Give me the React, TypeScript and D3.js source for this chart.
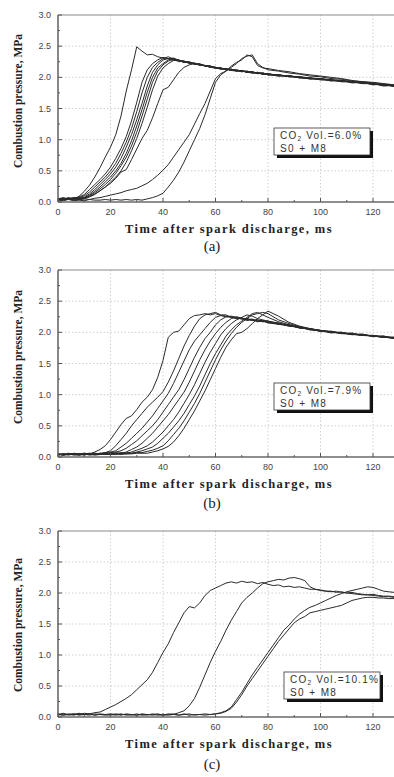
import React from "react";
import * as d3 from "d3";

// ---------- data ----------
const gridAB = [0,2,4,6,8,10,12,14,16,18,20,22,24,26,28,30,32,34,36,38,40,42,44,46,48,50,52,54,56,58,60,62,64,66,68,70,72,74,76,78,80,84,88,92,96,100,104,108,112,116,120,124,128];
const gridC = [0,2,4,6,8,10,12,14,16,18,20,22,24,26,28,30,32,34,36,38,40,42,44,46,48,50,52,54,56,58,60,62,64,66,68,70,72,74,76,78,80,82,84,86,88,90,92,94,96,98,100,102,104,106,108,110,112,114,116,118,120,122,124,126,128];

const xTicks = [0, 20, 40, 60, 80, 100, 120];
const yTicks = [0, 0.5, 1.0, 1.5, 2.0, 2.5, 3.0];
const co2Levels = ["6.0", "7.9", "10.1"];
const panelLetters = ["(a)", "(b)", "(c)"];
const fuelLabel = "S0 + M8";
const xTitle = "Time after spark discharge, ms";
const yTitle = "Combustion pressure, MPa";

// panel (a): CO2 6.0 %
const a1 = [.05,.04,.06,.05,.09,.17,.27,.40,.55,.72, .88,1.08,1.38,1.78,2.12,2.49,2.42,2.36,2.37,2.33, 2.31,2.30,2.27,2.27,2.24,2.24,2.21,2.21,2.18,2.17, 2.16,2.13,2.14,2.11,2.12,2.09,2.10,2.07,2.08,2.05, 2.06,2.02,2.03,1.99,1.99,1.96,1.96,1.93,1.93,1.90, 1.90,1.87,1.87];
const a2 = [.06,.04,.07,.05,.08,.12,.20,.28,.36,.45, .56,.70,.86,1.05,1.30,1.60,1.92,2.12,2.22,2.28, 2.32,2.30,2.29,2.25,2.26,2.22,2.23,2.19,2.19,2.16, 2.15,2.15,2.12,2.13,2.10,2.11,2.08,2.09,2.06,2.07, 2.04,2.04,2.01,2.01,1.97,1.98,1.94,1.95,1.91,1.92, 1.88,1.89,1.85];
const a3 = [.04,.06,.05,.07,.07,.10,.16,.24,.32,.40, .50,.62,.78,.96,1.18,1.45,1.75,2.00,2.16,2.24, 2.30,2.33,2.29,2.27,2.24,2.25,2.21,2.20,2.19,2.16, 2.16,2.13,2.14,2.11,2.10,2.11,2.08,2.07,2.08,2.05, 2.05,2.02,2.03,1.99,1.99,1.96,1.96,1.93,1.93,1.90, 1.90,1.86,1.87];
const a4 = [.05,.07,.04,.06,.06,.08,.13,.20,.28,.36, .45,.56,.70,.88,1.08,1.32,1.58,1.86,2.08,2.20, 2.28,2.30,2.31,2.27,2.26,2.23,2.23,2.20,2.19,2.18, 2.15,2.15,2.12,2.12,2.11,2.09,2.10,2.07,2.07,2.05, 2.06,2.03,2.02,2.00,1.98,1.98,1.95,1.95,1.92,1.92, 1.89,1.88,1.86];
const a5 = [.06,.05,.05,.07,.05,.07,.11,.17,.24,.32, .40,.50,.62,.78,.98,1.22,1.48,1.76,2.00,2.15, 2.22,2.28,2.30,2.28,2.25,2.24,2.22,2.21,2.18,2.18, 2.15,2.14,2.14,2.11,2.11,2.10,2.08,2.08,2.06,2.06, 2.04,2.04,2.01,2.00,1.98,1.97,1.95,1.94,1.93,1.91, 1.90,1.87,1.87];
const a6 = [.04,.06,.06,.04,.06,.06,.10,.15,.21,.28, .36,.46,.58,.72,.90,1.12,1.38,1.65,1.92,2.10, 2.20,2.26,2.29,2.27,2.26,2.23,2.22,2.20,2.19,2.17, 2.16,2.14,2.13,2.12,2.12,2.10,2.09,2.08,2.07,2.06, 2.05,2.03,2.02,2.00,1.99,1.97,1.96,1.94,1.93,1.91, 1.89,1.88,1.86];
const a7 = [.05,.04,.06,.05,.04,.05,.08,.12,.18,.24, .32,.40,.50,.64,.82,1.02,1.26,1.52,1.80,2.02, 2.15,2.22,2.27,2.28,2.24,2.25,2.21,2.22,2.18,2.18, 2.14,2.15,2.12,2.13,2.10,2.11,2.08,2.09,2.06,2.07, 2.04,2.04,2.01,2.01,1.98,1.98,1.95,1.95,1.92,1.92, 1.89,1.89,1.86];
const a8 = [.03,.05,.04,.05,.05,.06,.09,.13,.18,.24, .30,.38,.48,.52,.68,.85,1.02,1.15,1.35,1.58, 1.80,1.84,1.96,2.08,2.16,2.20,2.22,2.21,2.19,2.18, 2.16,2.15,2.13,2.13,2.11,2.11,2.09,2.09,2.07,2.07, 2.05,2.04,2.02,2.01,1.99,1.98,1.96,1.95,1.93,1.92, 1.90,1.88,1.87];
const a9 = [.04,.03,.05,.03,.04,.05,.04,.06,.07,.09, .11,.13,.15,.18,.20,.22,.26,.30,.36,.43, .51,.60,.72,.84,.96,1.08,1.25,1.42,1.58,1.78, 1.98,2.06,2.10,2.18,2.24,2.28,2.36,2.33,2.19,2.15, 2.14,2.11,2.09,2.06,2.04,2.02,2.00,1.98,1.95,1.93, 1.92,1.90,1.88];
const a10 = [.03,.02,.04,.02,.03,.02,.04,.03,.03,.04, .03,.04,.03,.04,.03,.04,.03,.05,.07,.10, .14,.24,.35,.48,.64,.82,1.00,1.18,1.40,1.66, 1.92,2.04,2.10,2.16,2.22,2.30,2.34,2.36,2.22,2.16, 2.12,2.10,2.07,2.05,2.02,2.01,1.98,1.97,1.94,1.93, 1.91,1.89,1.88];

// panel (b): CO2 7.9 %
const b1 = [.04,.03,.05,.04,.05,.06,.05,.08,.12,.18, .28,.40,.52,.62,.66,.76,.88,.96,1.08,1.28, 1.55,1.92,2.00,2.02,2.12,2.22,2.27,2.28,2.30,2.28, 2.30,2.27,2.25,2.24,2.22,2.22,2.19,2.20,2.17,2.18, 2.15,2.13,2.10,2.08,2.04,2.03,1.99,2.00,1.96,1.97, 1.93,1.94,1.90];
const b2 = [.05,.04,.06,.04,.05,.05,.06,.04,.06,.07, .10,.18,.28,.38,.50,.60,.70,.80,.88,.96, 1.05,1.20,1.38,1.58,1.78,1.95,2.10,2.22,2.28,2.30, 2.32,2.28,2.28,2.24,2.24,2.21,2.22,2.19,2.20,2.17, 2.18,2.13,2.12,2.07,2.06,2.01,2.02,1.98,1.99,1.95, 1.95,1.92,1.92];
const b3 = [.03,.05,.04,.05,.04,.06,.05,.06,.05,.07, .08,.10,.16,.22,.30,.38,.46,.56,.66,.78, .90,1.02,1.18,1.36,1.54,1.72,1.86,1.96,2.06,2.16, 2.24,2.27,2.26,2.25,2.22,2.23,2.20,2.21,2.18,2.19, 2.16,2.15,2.10,2.09,2.04,2.03,2.00,1.99,1.97,1.96, 1.94,1.92,1.91];
const b4 = [.05,.04,.04,.06,.05,.04,.06,.05,.06,.05, .07,.08,.10,.14,.20,.26,.34,.42,.50,.60, .72,.84,.96,1.08,1.24,1.42,1.60,1.76,1.90,2.00, 2.12,2.20,2.25,2.26,2.24,2.22,2.22,2.19,2.20,2.17, 2.18,2.13,2.12,2.07,2.06,2.02,2.01,1.98,1.98,1.95, 1.95,1.92,1.92];
const b5 = [.04,.05,.03,.05,.04,.05,.04,.06,.05,.06, .05,.07,.06,.08,.12,.16,.22,.30,.38,.48, .58,.68,.80,.92,1.04,1.20,1.38,1.56,1.72,1.86, 1.98,2.08,2.16,2.22,2.25,2.23,2.21,2.21,2.18,2.19, 2.16,2.14,2.11,2.07,2.05,2.02,2.00,2.00,1.97,1.96, 1.94,1.93,1.91];
const b6 = [.05,.03,.05,.04,.05,.03,.05,.04,.05,.04, .06,.05,.07,.06,.08,.11,.14,.18,.24,.32, .40,.50,.60,.72,.86,1.00,1.16,1.34,1.52,1.68, 1.82,1.96,2.06,2.14,2.20,2.24,2.28,2.26,2.22,2.20, 2.18,2.15,2.11,2.09,2.05,2.03,2.01,1.99,1.97,1.97, 1.94,1.94,1.91];
const b7 = [.03,.05,.04,.05,.03,.05,.04,.05,.04,.05, .04,.06,.05,.07,.06,.08,.10,.13,.16,.22, .30,.38,.48,.58,.70,.84,.98,1.14,1.32,1.50, 1.66,1.80,1.94,2.04,2.12,2.18,2.24,2.30,2.32,2.28, 2.24,2.17,2.12,2.08,2.06,2.03,2.00,2.00,1.97,1.95, 1.95,1.92,1.92];
const b8 = [.04,.04,.05,.03,.04,.05,.03,.04,.05,.04, .05,.04,.06,.05,.06,.07,.07,.09,.11,.14, .18,.26,.36,.46,.58,.72,.86,1.02,1.20,1.38, 1.56,1.72,1.86,1.98,2.08,2.16,2.22,2.28,2.30,2.32, 2.30,2.20,2.14,2.09,2.05,2.03,2.01,1.99,1.97,1.96, 1.94,1.93,1.90];
const b9 = [.05,.03,.04,.04,.03,.04,.05,.03,.04,.05, .04,.05,.04,.05,.05,.06,.06,.06,.08,.10, .13,.17,.24,.34,.46,.60,.74,.90,1.06,1.24, 1.42,1.60,1.76,1.88,1.98,2.00,2.06,2.14,2.22,2.28, 2.34,2.26,2.16,2.10,2.06,2.03,2.01,1.98,1.97,1.95, 1.94,1.92,1.91];

// panel (c): CO2 10.1 %
const c1 = [.04,.06,.03,.05,.04,.06,.05,.07,.08,.12, .16,.20,.25,.30,.36,.44,.52,.60,.72,.88, 1.04,1.18,1.36,1.52,1.68,1.78,1.76,1.84,1.96,2.04, 2.08,2.12,2.16,2.18,2.16,2.19,2.17,2.18,2.15,2.17, 2.14,2.12,2.13,2.10,2.11,2.09,2.10,2.08,2.06,2.06, 2.04,2.03,2.03,2.01,2.02,2.00,2.01,1.99,1.98,1.97, 1.98,1.96,1.95,1.95,1.94];
const c2 = [.05,.03,.05,.04,.06,.04,.05,.03,.05,.04, .05,.04,.03,.05,.04,.03,.05,.04,.03,.04, .03,.05,.04,.07,.10,.18,.30,.48,.68,.88, 1.06,1.22,1.40,1.56,1.70,1.84,1.93,2.00,2.08,2.15, 2.18,2.20,2.22,2.21,2.24,2.25,2.23,2.20,2.10,2.06, 2.05,2.03,2.02,2.03,2.01,2.00,1.99,1.98,1.97,1.97, 1.96,1.95,1.94,1.94,1.93];
const c3 = [.03,.05,.04,.03,.05,.04,.03,.05,.04,.03, .04,.03,.05,.03,.04,.03,.04,.03,.05,.03, .04,.03,.04,.03,.05,.03,.04,.04,.03,.04, .05,.07,.10,.16,.28,.40,.54,.68,.80,.92, 1.04,1.16,1.28,1.40,1.48,1.58,1.66,1.72,1.77,1.80, 1.84,1.88,1.92,1.96,1.99,2.02,2.04,2.06,2.08,2.10, 2.09,2.06,2.03,2.02,2.01];
const c4 = [.04,.03,.04,.05,.03,.04,.05,.03,.04,.04, .03,.05,.04,.04,.03,.05,.03,.04,.04,.05, .03,.04,.05,.03,.04,.05,.03,.04,.05,.04, .05,.06,.09,.14,.24,.36,.50,.62,.74,.86, .98,1.10,1.22,1.32,1.42,1.52,1.58,1.62,1.68,1.70, 1.72,1.74,1.76,1.78,1.80,1.84,1.88,1.90,1.92,1.93, 1.93,1.92,1.92,1.91,1.91];

const panelA = [a1, a2, a3, a4, a5, a6, a7, a8, a9, a10];
const panelB = [b1, b2, b3, b4, b5, b6, b7, b8, b9];
const panelC = [c1, c2, c3, c4];

// ---------- layout ----------
const W = 394;
const H = 777;
const plotLeft = 58;
const pxPerMs = 2.625;
const panels = [
  { curves: panelA, grid: gridAB, top: 15, bottom: 202, legX: 274, legY: 128, yTitleY: 101, letterDy: 49 },
  { curves: panelB, grid: gridAB, top: 270, bottom: 457, legX: 274, legY: 383, yTitleY: 357, letterDy: 51 },
  { curves: panelC, grid: gridC, top: 531, bottom: 717, legX: 284, legY: 672, yTitleY: 625, letterDy: 52 },
];

const sans = "'Liberation Sans', Arial, sans-serif";
const serif = "'Liberation Serif', 'Times New Roman', serif";

function Panel({ p, idx }: { p: any; idx: number }) {
  const x = d3.scaleLinear().domain([0, 130]).range([plotLeft, plotLeft + 130 * pxPerMs]);
  const y = d3.scaleLinear().domain([0, 3]).range([p.bottom, p.top]);
  const line = d3
    .line<number>()
    .x((_, i) => x(p.grid[i]))
    .y((d) => y(d));
  const minorX = d3.range(10, 130, 20);
  const minorY = d3.range(0.25, 3, 0.5);
  const xRight = W;
  return (
    <g>
      {/* grid */}
      {xTicks.slice(1).map((t) => (
        <line key={"gx" + t} x1={x(t)} x2={x(t)} y1={p.top} y2={p.bottom} stroke="#c4c4c4" strokeWidth={0.8} strokeDasharray="1.5,2" />
      ))}
      {yTicks.slice(1, -1).map((t) => (
        <line key={"gy" + t} x1={plotLeft} x2={xRight} y1={y(t)} y2={y(t)} stroke="#c4c4c4" strokeWidth={0.8} strokeDasharray="1.5,2" />
      ))}
      {/* curves */}
      {p.curves.map((c: number[], i: number) => (
        <path key={"c" + i} d={line(c) || ""} fill="none" stroke="#2a2a2a" strokeWidth={1} strokeLinejoin="round" />
      ))}
      {/* frame */}
      <line x1={plotLeft} x2={xRight} y1={p.top} y2={p.top} stroke="#8a8a8a" strokeWidth={1.2} />
      <line x1={plotLeft} x2={xRight} y1={p.bottom} y2={p.bottom} stroke="#6a6a6a" strokeWidth={1.6} />
      <line x1={plotLeft} x2={plotLeft} y1={p.top} y2={p.bottom} stroke="#6a6a6a" strokeWidth={1.6} />
      {/* ticks */}
      {xTicks.map((t) => (
        <line key={"tx" + t} x1={x(t)} x2={x(t)} y1={p.bottom} y2={p.bottom - 4} stroke="#555" strokeWidth={1} />
      ))}
      {minorX.map((t) => (
        <line key={"mx" + t} x1={x(t)} x2={x(t)} y1={p.bottom} y2={p.bottom - 2} stroke="#555" strokeWidth={1} />
      ))}
      {yTicks.map((t) => (
        <line key={"ty" + t} x1={plotLeft} x2={plotLeft + 4} y1={y(t)} y2={y(t)} stroke="#555" strokeWidth={1} />
      ))}
      {minorY.map((t) => (
        <line key={"my" + t} x1={plotLeft} x2={plotLeft + 2} y1={y(t)} y2={y(t)} stroke="#555" strokeWidth={1} />
      ))}
      {/* tick labels */}
      {xTicks.map((t) => (
        <text key={"lx" + t} x={x(t)} y={p.bottom + 13} textAnchor="middle" fontFamily={sans} fontSize={9} fill="#444">
          {t}
        </text>
      ))}
      {yTicks.map((t) => (
        <text key={"ly" + t} x={51} y={y(t) + 3} textAnchor="end" fontFamily={sans} fontSize={9} fill="#444">
          {t.toFixed(1)}
        </text>
      ))}
      {/* titles */}
      <text x={229} y={p.bottom + 31} textAnchor="middle" fontFamily={serif} fontWeight="bold" fontSize={12.5} letterSpacing={1.4} fill="#222">
        {xTitle}
      </text>
      <text
        transform={`translate(22,${p.yTitleY}) rotate(-90)`}
        textAnchor="middle"
        fontFamily={serif}
        fontWeight="bold"
        fontSize={11.5}
        fill="#222"
      >
        {yTitle}
      </text>
      <text x={212} y={p.bottom + p.letterDy} textAnchor="middle" fontFamily={serif} fontSize={15} fill="#222">
        {panelLetters[idx]}
      </text>
      {/* legend */}
      <rect x={p.legX + 3} y={p.legY + 3} width={96} height={27} fill="#111" />
      <rect x={p.legX} y={p.legY} width={96} height={27} fill="#fff" stroke="#333" strokeWidth={0.8} />
      <text x={p.legX + 6} y={p.legY + 10.5} fontFamily={sans} fontSize={10} letterSpacing={1.2} fill="#333">
        CO<tspan fontSize={6.5} dy={2.5}>2</tspan>
        <tspan dy={-2.5}>{` Vol.=${co2Levels[idx]}%`}</tspan>
      </text>
      <text x={p.legX + 6} y={p.legY + 24} fontFamily={sans} fontSize={10} letterSpacing={1.4} fill="#333">
        {fuelLabel}
      </text>
    </g>
  );
}

export default function App() {
  return (
    <svg width={W} height={H} style={{ position: "absolute", left: 0, top: 0, background: "#fff" }}>
      <rect x={0} y={0} width={W} height={H} fill="#fff" />
      {panels.map((p, i) => (
        <Panel key={i} p={p} idx={i} />
      ))}
    </svg>
  );
}
